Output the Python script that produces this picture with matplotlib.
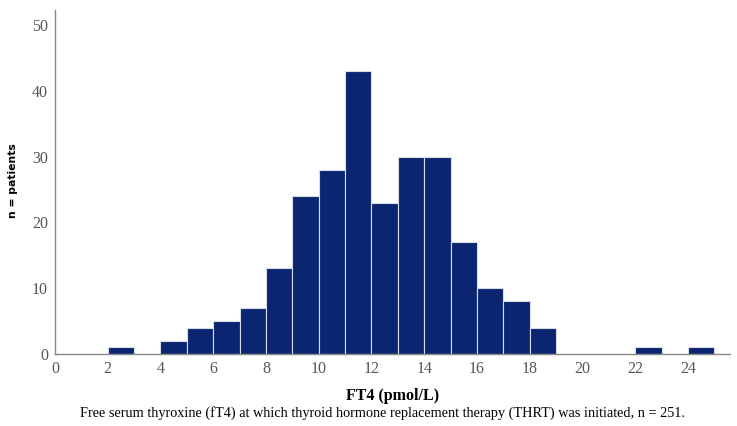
import matplotlib.pyplot as plt
import numpy as np

# Bins of width 1 pmol/L, left edges 2..24
bin_left = [2, 3, 4, 5, 6, 7, 8, 9, 10, 11, 12, 13, 14, 15, 16, 17, 18, 19, 20, 21, 22, 23, 24]
counts = [1, 0, 2, 4, 5, 7, 13, 24, 28, 43, 23, 30, 30, 17, 10, 8, 4, 0, 0, 0, 1, 0, 1]
xticks = [0, 2, 4, 6, 8, 10, 12, 14, 16, 18, 20, 22, 24]
yticks = [0, 10, 20, 30, 40, 50]

plt.rcParams['font.family'] = ['Liberation Serif', 'DejaVu Serif']

fig = plt.figure(figsize=(7.37, 4.26), dpi=100)
ax = fig.add_axes([0.0746, 0.169, 0.916, 0.808])

ax.bar(bin_left, counts, width=1.0, align='edge', color='#0b2570',
       edgecolor='#d9dce6', linewidth=0.8)

ax.set_xlim(0, 25.6)
ax.set_ylim(0, 52.3)
ax.set_xticks(xticks)
ax.set_yticks(yticks)
ax.tick_params(length=0, labelsize=11.5, colors='#555555', pad=5)
for s in ['top', 'right']:
    ax.spines[s].set_visible(False)
for s in ['left', 'bottom']:
    ax.spines[s].set_color('#888888')
    ax.spines[s].set_linewidth(1.0)

fig.text(0.017, 0.575, 'n = patients', fontsize=7.8, fontweight='bold',
         rotation=90, ha='center', va='center', family=['DejaVu Sans'])
fig.text(0.532, 0.07, 'FT4 (pmol/L)', fontsize=11.5, fontweight='bold',
         ha='center', va='center')
fig.text(0.519, 0.030, 'Free serum thyroxine (fT4) at which thyroid hormone replacement therapy (THRT) was initiated, n = 251.',
         fontsize=10.3, ha='center', va='center')

fig.savefig('out.png', dpi=100)
